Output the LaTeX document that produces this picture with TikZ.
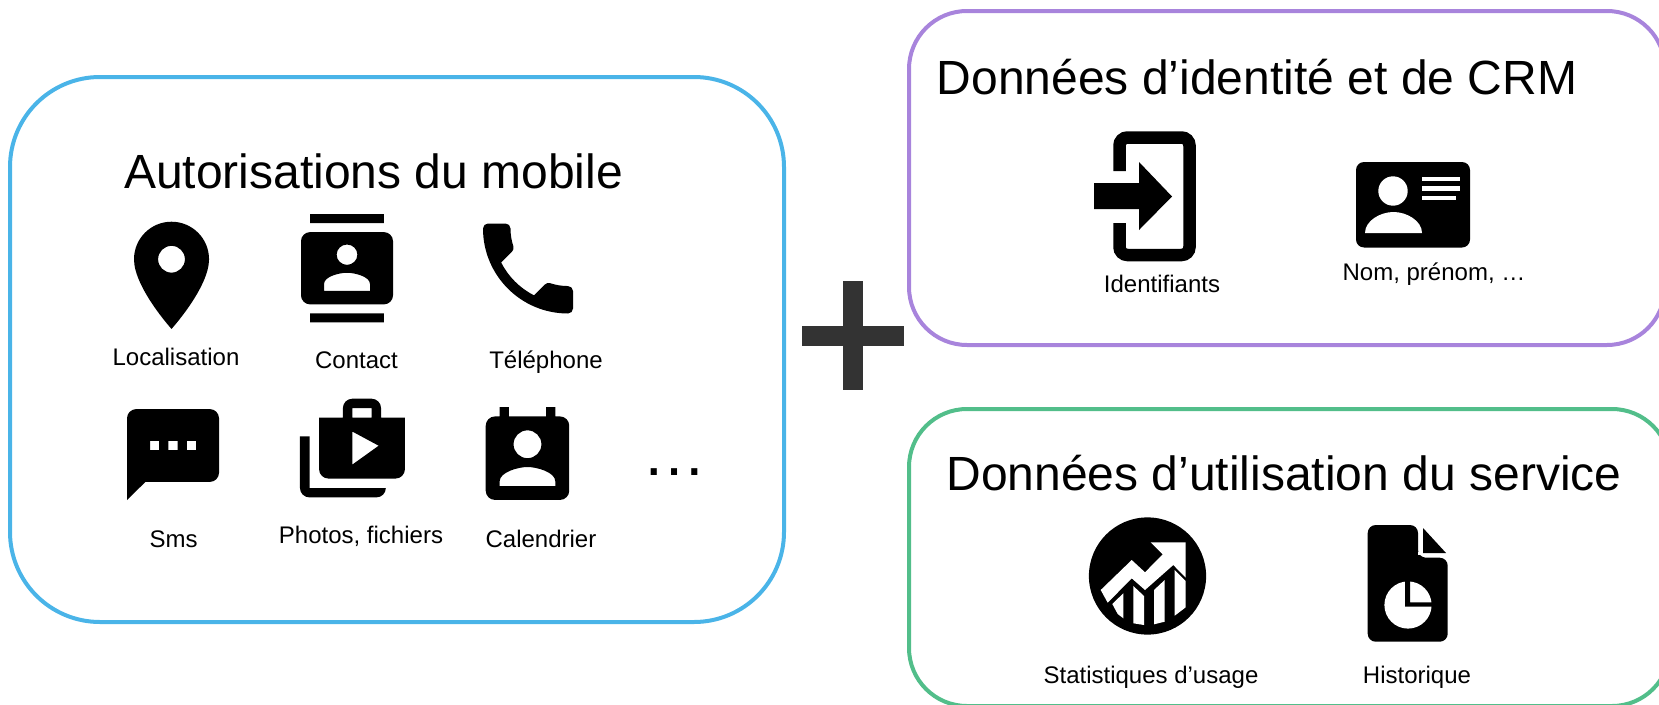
\documentclass[tikz,border=0pt]{standalone}
\usepackage{fontspec}
\setmainfont{Liberation Sans}
\usetikzlibrary{svg.path}
\definecolor{mobileblue}{HTML}{4AB4E8}
\definecolor{crmpurple}{HTML}{A884DC}
\definecolor{usagegreen}{HTML}{52BE8A}
\definecolor{plusgray}{HTML}{333333}
\tikzset{
    boxline/.style={line width=4pt},
    boxtitle/.style={anchor=base,inner sep=0pt,font=\fontsize{48}{56}\selectfont},
    caption/.style={anchor=base,inner sep=0pt,font=\fontsize{24}{28}\selectfont},
}

\begin{document}
\begin{tikzpicture}[x=1pt,y=-1pt]
    \useasboundingbox (0,0) rectangle (1659,704);
    \clip (0,0) rectangle (1659,704);
    % boxes
    \draw[boxline,mobileblue,rounded corners=90pt] (10,77) rectangle (784,622);
    \draw[boxline,crmpurple,rounded corners=58pt] (909,11) rectangle (1665,345);
    \draw[boxline,usagegreen,rounded corners=58pt] (909,409) rectangle (1670,706);
    \fill[plusgray] (802,325.5) rectangle (904,346);
    \fill[plusgray] (843,281) rectangle (863,390);
    % titles
    \node[boxtitle] (mobiletitle) at (373.5,188.5) {Autorisations du mobile};
    \node[boxtitle] (crmtitle) at (1257,94.5) {Données d’identité et de CRM};
    \node[boxtitle] (usagetitle) at (1284,490) {Données d’utilisation du service};
    % captions
    \node[caption] (localisation) at (176,365) {Localisation};
    \node[caption] (contact) at (356.5,368) {Contact};
    \node[caption] (telephone) at (546,368) {Téléphone};
    \node[caption] (sms) at (173.5,547) {Sms};
    \node[caption] (photos) at (361,543) {Photos, fichiers};
    \node[caption] (calendrier) at (541,547) {Calendrier};
    \node[anchor=base,inner sep=0pt,font=\fontsize{64}{70}\selectfont] (others) at (674,475) {…};
    \node[caption] (identifiants) at (1162,292) {Identifiants};
    \node[caption] (nom) at (1434,280) {Nom, prénom, …};
    \node[caption] (statistiques) at (1151,683.5) {Statistiques d’usage};
    \node[caption] (historique) at (1417,683.5) {Historique};
    % mobile icons
    \fill[shift={(107.2,211)},xscale=5.36,yscale=-5.36] svg {M 12 2 C 8.13 2 5 5.13 5 9 c 0 5.25 7 13 7 13 s 7 -7.75 7 -13 c 0 -3.87 -3.13 -7 -7 -7 z m 0 9.5 c -1.38 0 -2.5 -1.12 -2.5 -2.5 s 1.12 -2.5 2.5 -2.5 s 2.5 1.12 2.5 2.5 s -1.12 2.5 -2.5 2.5 z};
    \fill[shift={(291.8,214)},xscale=4.6,yscale=-4.52] svg {M 20 0 H 4 v 2 h 16 V 0 z M 4 24 h 16 v -2 H 4 v 2 z M 20 4 H 4 c -1.1 0 -2 0.9 -2 2 v 12 c 0 1.1 0.9 2 2 2 h 16 c 1.1 0 2 -0.9 2 -2 V 6 c 0 -1.1 -0.9 -2 -2 -2 z m -8 2.75 c 1.24 0 2.25 1.01 2.25 2.25 s -1.01 2.25 -2.25 2.25 S 9.75 10.24 9.75 9 S 10.76 6.75 12 6.75 z M 17 17 H 7 v -1.5 c 0 -1.67 3.33 -2.5 5 -2.5 s 5 0.83 5 2.5 V 17 z};
    \fill[shift={(468,208.5)},xscale=5,yscale=-5] svg {M 6.62 10.79 c 1.44 2.83 3.76 5.14 6.59 6.59 l 2.2 -2.2 c 0.27 -0.27 0.67 -0.36 1.02 -0.24 c 1.12 0.37 2.33 0.57 3.57 0.57 c 0.55 0 1 0.45 1 1 V 20 c 0 0.55 -0.45 1 -1 1 c -9.39 0 -17 -7.61 -17 -17 c 0 -0.55 0.45 -1 1 -1 h 3.5 c 0.55 0 1 0.45 1 1 c 0 1.25 0.2 2.45 0.57 3.57 c 0.11 0.35 0.03 0.74 -0.25 1.02 l -2.2 2.2 z};
    \fill[shift={(117.8,400)},xscale=4.6,yscale=-4.55] svg {M 20 2 H 4 c -1.1 0 -1.99 0.9 -1.99 2 L 2 22 l 4 -4 h 14 c 1.1 0 2 -0.9 2 -2 V 4 c 0 -1.1 -0.9 -2 -2 -2 z M 9 11 H 7 V 9 h 2 v 2 z m 4 0 h -2 V 9 h 2 v 2 z m 4 0 h -2 V 9 h 2 v 2 z};
    \fill[shift={(295.2,394)},xscale=4.77,yscale=-4.7] svg {M 3 9 H 1 v 11 c 0 1.11 0.89 2 2 2 h 14 c 1.11 0 2 -0.89 2 -2 H 3 V 9 z m 15 -4 V 3 c 0 -1.11 -0.89 -2 -2 -2 h -4 c -1.11 0 -2 0.89 -2 2 v 2 H 5 v 11 c 0 1.11 0.89 2 2 2 h 14 c 1.11 0 2 -0.89 2 -2 V 5 h -5 z m -6 -2 h 4 v 2 h -4 V 3 z m 0 12 V 8 l 5.5 3 l -5.5 4 z};
    \fill[shift={(471.8,402.5)},xscale=4.64,yscale=-4.64] svg {M 19 3 h -1 V 1 h -2 v 2 H 8 V 1 H 6 v 2 H 5 c -1.11 0 -2 0.9 -2 2 v 14 c 0 1.1 0.89 2 2 2 h 14 c 1.1 0 2 -0.9 2 -2 V 5 c 0 -1.1 -0.9 -2 -2 -2 z m -7 3 c 1.66 0 3 1.34 3 3 s -1.34 3 -3 3 s -3 -1.34 -3 -3 s 1.34 -3 3 -3 z m 6 12 H 6 v -1 c 0 -2 4 -3.1 6 -3.1 s 6 1.1 6 3.1 v 1 z};
    % login icon
    \draw[line width=12.5pt,rounded corners=8pt] (1119.5,171) -- (1119.5,137.5) -- (1189.5,137.5) -- (1189.5,255) -- (1119.5,255) -- (1119.5,223);
    \fill (1094,183) -- (1139,183) -- (1139,162) -- (1172,196.5) -- (1139,230) -- (1139,209) -- (1094,209) -- cycle;
    % id card
    \fill[rounded corners=8pt] (1356,162) rectangle (1470,247.5);
    \fill[white] (1393,191) circle (14.7pt);
    \fill[white] (1365,233) .. controls (1365,221) and (1380,212) .. (1393.5,212) .. controls (1407,212) and (1422,221) .. (1422,233) -- cycle;
    \fill[white] (1422,176.5) rectangle (1460,181);
    \fill[white] (1422,186) rectangle (1460,190.5);
    \fill[white] (1422,195.5) rectangle (1456,200);
    % statistics
    \fill (1147.5,576) circle (58.6pt);
    \fill[white] (1100.7,590) -- (1131.7,560) -- (1145,572.3) -- (1162.7,554.3) -- (1150.7,542.3) -- (1185.7,542.3) -- (1185.7,577.7) -- (1173.3,565) -- (1145,590) -- (1131.7,578.3) -- (1107.7,602.7) -- cycle;
    \fill[white] (1112.3,604) -- (1123.3,593.3) -- (1123.3,618.3) -- (1117.7,614) -- cycle;
    \fill[white] (1133.3,586) -- (1144,596) -- (1144,625) -- (1133.3,623.3) -- cycle;
    \fill[white] (1154,590) -- (1164.7,580) -- (1164.7,621.7) -- (1154,624.3) -- cycle;
    \fill[white] (1174.7,570) -- (1185.7,581) -- (1185.7,607.3) -- (1174.7,615.7) -- cycle;
    % history file
    \fill[rounded corners=8pt] (1367.7,525) -- (1418,525) -- (1418,557.7) -- (1447.7,557.7) -- (1447.7,641.7) -- (1367.7,641.7) -- cycle;
    \fill[white] (1418,552) rectangle (1423,555);
    \fill (1423,528) -- (1446,553) -- (1423,553) -- cycle;
    \fill[white] (1408,605) circle (23.6pt);
    \fill (1405,578.3) -- (1410,578.3) -- (1410,602.3) -- (1433.3,602.3) -- (1433.3,606.7) -- (1405,606.7) -- cycle;
\end{tikzpicture}
\end{document}
